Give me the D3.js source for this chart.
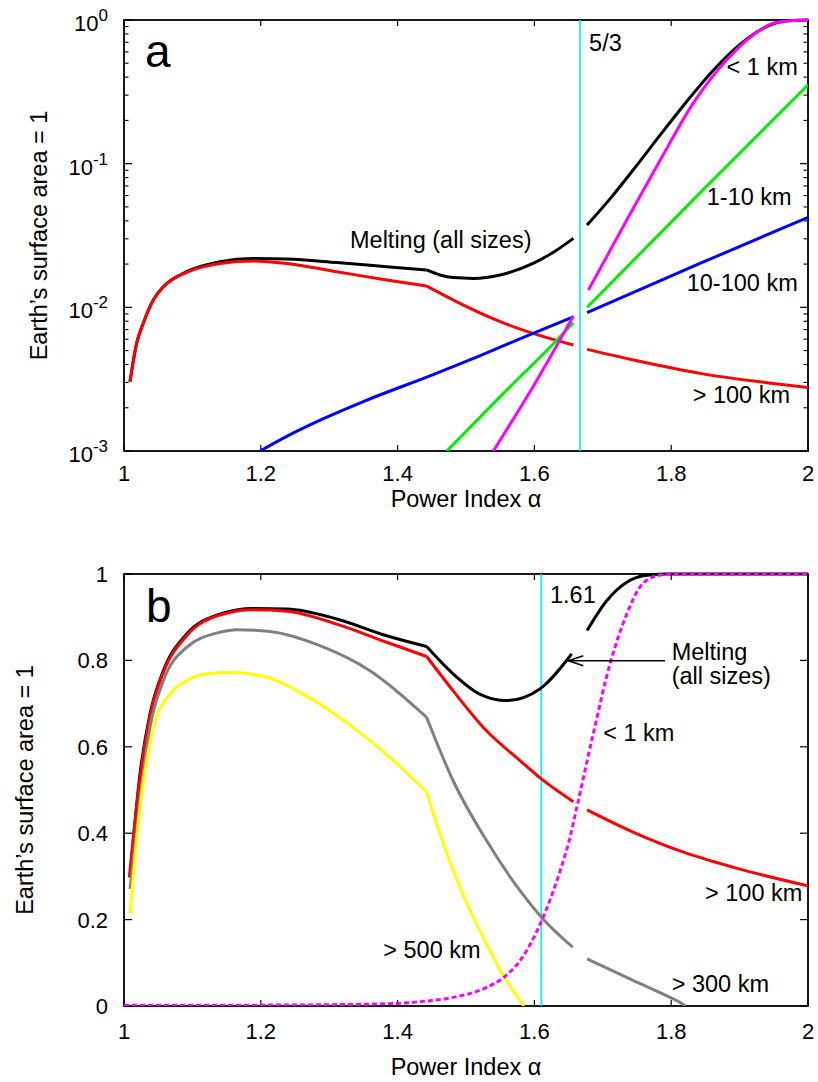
<!DOCTYPE html>
<html><head><meta charset="utf-8">
<script src="https://cdn.jsdelivr.net/npm/d3@7"></script>
<style>
body{margin:0;background:#fff}
svg{display:block;background:#fff}
text{font-family:"Liberation Sans",Arial,Helvetica,sans-serif;fill:#000}
</style>
</head><body>
<svg id="chart" width="818" height="1082"></svg>
<script>
// ---------- data ----------
const alphaTicks = [1, 1.2, 1.4, 1.6, 1.8, 2];
const alphaTickLabels = ["1", "1.2", "1.4", "1.6", "1.8", "2"];
const logTickExps = [0, -1, -2, -3];
const linTicks = [0, 0.2, 0.4, 0.6, 0.8, 1];
const linTickLabels = ["0", "0.2", "0.4", "0.6", "0.8", "1"];

const markerA = 5 / 3;
const markerB = 1.61;
const kinkAlpha = 1.4425;

// Panel a (log scale), null = gap
const meltA = [[1.0088,0.00304],[1.0185,0.00562],[1.0282,0.00774],[1.0428,0.01125],[1.0575,0.0139],[1.0916,0.0177],[1.1404,0.0208],[1.189,0.0219],[1.238,0.0217],[1.311,0.0205],[1.384,0.0192],[1.4425,0.0182],[1.462,0.0168],[1.4815,0.0161],[1.5107,0.0159],[1.550,0.0168],[1.598,0.0202],[1.633,0.0251],[1.657,0.0302],
  null,
  [1.677,0.0374],[1.7105,0.0569],[1.745,0.0912],[1.784,0.1585],[1.823,0.272],[1.8616,0.447],[1.9006,0.676],[1.930,0.851],[1.954,0.957],[1.978,0.993],[2.0,1.0]];
const large100A = [[1.0088,0.00304],[1.0185,0.00562],[1.0282,0.00774],[1.0428,0.01125],[1.0575,0.0139],[1.0916,0.0175],[1.1404,0.0202],[1.189,0.0210],[1.238,0.0202],[1.311,0.0177],[1.384,0.0155],[1.4425,0.01408],[1.4815,0.01125],[1.501,0.0101],[1.550,0.00794],[1.598,0.00659],[1.657,0.00547],
  null,
  [1.677,0.0051],[1.745,0.0043],[1.842,0.00347],[1.9396,0.00299],[2.0,0.00277]];
const mid10A = [[1.199,0.001],[1.24,0.00128],[1.29,0.001667],[1.35,0.00221],[1.452,0.0034],[1.520,0.0046],[1.598,0.00659],[1.657,0.0086],
  null,
  [1.677,0.00918],[1.842,0.0202],[2.0,0.0423]];
const small1A = [[1.472,0.001],[1.550,0.00239],[1.633,0.00593],[1.657,0.00782],
  null,
  [1.677,0.0100],[1.84,0.0611],[2.0,0.353]];
const tinyA = [[1.540,0.001],[1.598,0.0028],[1.657,0.0087],
  null,
  [1.679,0.0132],[1.735,0.0405],[1.784,0.106],[1.832,0.263],[1.881,0.527],[1.920,0.787],[1.949,0.948],[1.978,0.99],[2.0,1.0]];

// Panel b (linear scale)
const meltB = [[1.0088,0.298],[1.0234,0.537],[1.038,0.676],[1.0575,0.776],[1.0916,0.861],[1.140,0.907],[1.189,0.920],[1.238,0.919],[1.311,0.896],[1.384,0.857],[1.4425,0.832],[1.481,0.769],[1.520,0.722],[1.559,0.707],[1.608,0.734],[1.6545,0.815],
  null,
  [1.677,0.869],[1.7057,0.938],[1.735,0.981],[1.759,0.996],[1.79,1.0],[2.0,1.0]];
const large100B = [[1.0078,0.298],[1.023,0.522],[1.038,0.672],[1.0575,0.772],[1.0916,0.857],[1.140,0.905],[1.189,0.917],[1.238,0.914],[1.311,0.884],[1.384,0.842],[1.4425,0.809],[1.481,0.730],[1.530,0.637],[1.579,0.568],[1.6106,0.525],[1.657,0.473],
  null,
  [1.677,0.454],[1.745,0.402],[1.818,0.356],[1.891,0.321],[2.0,0.278]];
const large300B = [[1.0088,0.271],[1.0234,0.475],[1.038,0.645],[1.0575,0.753],[1.0916,0.830],[1.140,0.865],[1.165,0.871],[1.2135,0.867],[1.2865,0.834],[1.3596,0.776],[1.4425,0.668],[1.481,0.522],[1.530,0.383],[1.579,0.267],[1.6106,0.205],[1.656,0.136],
  null,
  [1.677,0.109],[1.745,0.0586],[1.793,0.024],[1.81,0.011],[1.821,0.0]];
const large500B = [[1.0088,0.213],[1.0234,0.46],[1.043,0.645],[1.067,0.722],[1.0916,0.753],[1.121,0.769],[1.155,0.772],[1.199,0.765],[1.262,0.722],[1.335,0.645],[1.394,0.568],[1.4425,0.495],[1.462,0.398],[1.491,0.275],[1.530,0.1435],[1.5546,0.070],[1.5848,0.0]];
const tinyB = [[1.0,0.0015],[1.2,0.002],[1.3,0.003],[1.399,0.006],[1.433,0.010],[1.481,0.020],[1.530,0.043],[1.555,0.066],[1.579,0.105],[1.6106,0.1975],[1.637,0.31],[1.652,0.39],[1.662,0.460],[1.686,0.630],[1.7105,0.792],[1.735,0.907],[1.754,0.969],[1.779,0.996],[1.80,1.0],[2.0,1.0]];

// ---------- layout ----------
const svg = d3.select("#chart");
const X0 = 124, X1 = 808;
const PA = {top: 20, bottom: 451, tickLab: 30};
const PB = {top: 574, bottom: 1006, tickLab: 33};
const x = d3.scaleLinear().domain([1, 2]).range([X0, X1]);
const ya = d3.scaleLog().domain([1e-3, 1]).range([PA.bottom, PA.top]);
const yb = d3.scaleLinear().domain([0, 1]).range([PB.bottom, PB.top]);

const FS_TICK = 22, FS_ANN = 23.5;

const defs = svg.append("defs");
[["clipA", PA], ["clipB", PB]].forEach(([id, p]) => {
  defs.append("clipPath").attr("id", id).append("rect")
    .attr("x", X0).attr("y", p.top - 3).attr("width", X1 - X0).attr("height", p.bottom - p.top + 3);
});

function frame(p) {
  svg.append("rect").attr("x", X0).attr("y", p.top).attr("width", X1 - X0).attr("height", p.bottom - p.top)
    .attr("fill", "none").attr("stroke", "#000").attr("stroke-width", 1.8);
  alphaTicks.forEach((t, i) => {
    svg.append("line").attr("x1", x(t)).attr("x2", x(t)).attr("y1", p.bottom).attr("y2", p.bottom - 6).attr("stroke", "#000").attr("stroke-width", 1.2);
    svg.append("line").attr("x1", x(t)).attr("x2", x(t)).attr("y1", p.top).attr("y2", p.top + 6).attr("stroke", "#000").attr("stroke-width", 1.2);
    svg.append("text").attr("x", x(t)).attr("y", p.bottom + p.tickLab).attr("text-anchor", "middle")
      .attr("font-size", FS_TICK).text(alphaTickLabels[i]);
  });
}

function vline(val, p) {
  svg.append("line").attr("x1", x(val)).attr("x2", x(val)).attr("y1", p.top).attr("y2", p.bottom)
    .attr("stroke", "#00f0f0").attr("stroke-width", 1.6);
}

// split a series into segments at gaps (null) and at the kink (kink point shared)
function segments(data) {
  const segs = [];
  let cur = [];
  data.forEach(d => {
    if (d === null) { if (cur.length) segs.push(cur); cur = []; return; }
    cur.push(d);
    if (Math.abs(d[0] - kinkAlpha) < 1e-9) { segs.push(cur); cur = [d]; }
  });
  if (cur.length > 1) segs.push(cur);
  return segs;
}

function drawSeries(data, y, clip, color, dash) {
  const line = d3.line().x(d => x(d[0])).y(d => y(d[1])).curve(d3.curveMonotoneX);
  const g = svg.append("g").attr("clip-path", `url(#${clip})`);
  if (dash) {
    const dstr = segments(data).map(s => line(s)).join("");
    g.append("path").attr("d", dstr).attr("fill", "none").attr("stroke", color)
      .attr("stroke-width", 3).attr("stroke-dasharray", dash);
  } else {
    segments(data).forEach(s => {
      g.append("path").attr("d", line(s)).attr("fill", "none").attr("stroke", color)
        .attr("stroke-width", 3).attr("stroke-linejoin", "round");
    });
  }
}

function label(txt, ax, y, v, fs, anchor) {
  svg.append("text").attr("x", x(ax)).attr("y", y(v)).attr("font-size", fs || FS_ANN)
    .attr("text-anchor", anchor || "start").text(txt);
}

// ---------- Panel a ----------
frame(PA);
logTickExps.forEach(e => {
  const yy = ya(Math.pow(10, e));
  svg.append("line").attr("x1", X0).attr("x2", X0 + 8).attr("y1", yy).attr("y2", yy).attr("stroke", "#000").attr("stroke-width", 1.2);
  svg.append("line").attr("x1", X1).attr("x2", X1 - 8).attr("y1", yy).attr("y2", yy).attr("stroke", "#000").attr("stroke-width", 1.2);
  const t = svg.append("text").attr("x", 108).attr("y", yy + 11).attr("text-anchor", "end").attr("font-size", FS_TICK);
  t.append("tspan").text("10");
  t.append("tspan").attr("dy", -10).attr("font-size", 17).text(String(e));
  if (e > -3) {
    for (let k = 2; k <= 9; k++) {
      const ym = ya(k * Math.pow(10, e - 1));
      svg.append("line").attr("x1", X0).attr("x2", X0 + 4.5).attr("y1", ym).attr("y2", ym).attr("stroke", "#000").attr("stroke-width", 1.1);
      svg.append("line").attr("x1", X1).attr("x2", X1 - 4.5).attr("y1", ym).attr("y2", ym).attr("stroke", "#000").attr("stroke-width", 1.1);
    }
  }
});
vline(markerA, PA);
drawSeries(meltA, ya, "clipA", "#000");
drawSeries(large100A, ya, "clipA", "#ff0000");
drawSeries(mid10A, ya, "clipA", "#0000ff");
drawSeries(small1A, ya, "clipA", "#00ee00");
drawSeries(tinyA, ya, "clipA", "#ff00ff");

svg.append("text").attr("x", x(1.0307)).attr("y", ya(0.473)).attr("font-size", 46).text("a");
label("5/3", 1.680, ya, 0.611, 23.5);
label("< 1 km", 1.881, ya, 0.414);
label("1-10 km", 1.852, ya, 0.0515);
label("10-100 km", 1.8227, ya, 0.01305);
label("> 100 km", 1.8314, ya, 0.00215);
label("Melting (all sizes)", 1.3304, ya, 0.0259);
svg.append("text").attr("x", (X0 + X1) / 2).attr("y", 507).attr("text-anchor", "middle").attr("font-size", FS_ANN).text("Power Index α");
svg.append("text").attr("transform", `translate(47,${(PA.top + PA.bottom) / 2}) rotate(-90)`)
  .attr("text-anchor", "middle").attr("font-size", FS_ANN).text("Earth’s surface area = 1");

// ---------- Panel b ----------
frame(PB);
linTicks.forEach((t, i) => {
  const yy = yb(t);
  svg.append("line").attr("x1", X0).attr("x2", X0 + 8).attr("y1", yy).attr("y2", yy).attr("stroke", "#000").attr("stroke-width", 1.2);
  svg.append("line").attr("x1", X1).attr("x2", X1 - 8).attr("y1", yy).attr("y2", yy).attr("stroke", "#000").attr("stroke-width", 1.2);
  svg.append("text").attr("x", 108).attr("y", yy + 8).attr("text-anchor", "end").attr("font-size", FS_TICK).text(linTickLabels[i]);
});
vline(markerB, PB);
drawSeries(meltB, yb, "clipB", "#000");
drawSeries(large100B, yb, "clipB", "#ff0000");
drawSeries(large300B, yb, "clipB", "#808080");
drawSeries(large500B, yb, "clipB", "#ffff00");
drawSeries(tinyB, yb, "clipB", "#ff00ff", "5,3");

svg.append("text").attr("x", x(1.032)).attr("y", yb(0.8896)).attr("font-size", 46).text("b");
label("1.61", 1.6228, yb, 0.933, 23.5);
label("Melting", 1.8007, yb, 0.801);
label("(all sizes)", 1.8007, yb, 0.745);
label("< 1 km", 1.7007, yb, 0.614);
label("> 100 km", 1.8494, yb, 0.2437);
label("> 300 km", 1.8007, yb, 0.0324);
label("> 500 km", 1.3791, yb, 0.110);
const ay = yb(0.799), ax0 = x(1.791), ax1 = x(1.6496);
svg.append("line").attr("x1", ax0).attr("x2", ax1).attr("y1", ay).attr("y2", ay).attr("stroke", "#000").attr("stroke-width", 1.5);
svg.append("path").attr("d", `M${ax1 + 15},${ay - 5}L${ax1},${ay}L${ax1 + 15},${ay + 5}`)
  .attr("fill", "none").attr("stroke", "#000").attr("stroke-width", 1.5);
svg.append("text").attr("x", (X0 + X1) / 2).attr("y", 1075).attr("text-anchor", "middle").attr("font-size", FS_ANN).text("Power Index α");
svg.append("text").attr("transform", `translate(33,${(PB.top + PB.bottom) / 2}) rotate(-90)`)
  .attr("text-anchor", "middle").attr("font-size", FS_ANN).text("Earth’s surface area = 1");
</script>
</body></html>
